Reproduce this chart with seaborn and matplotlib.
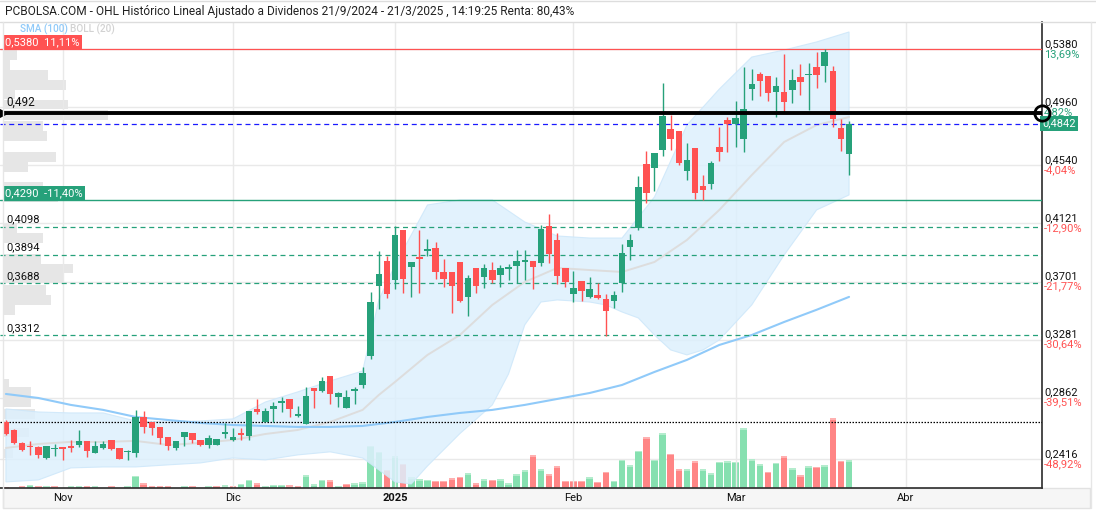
import numpy as np
import pandas as pd
import seaborn as sns
import matplotlib.pyplot as plt

# ---- data --------------------------------------------------------------
holidays = ["2024-12-25", "2024-12-26", "2025-01-01"]
dates = pd.bdate_range("2024-10-23", "2025-04-30").drop(pd.to_datetime(holidays))

opens = [.2689, .2629, .2538, .2514, .2509, .2429, .2492, .2504, .2514, .2521,
         .2550, .2465, .2499, .2557, .2499, .2470, .2465, .2721, .2689, .2651,
         .2579, .2499, .2581, .2610, .2557, .2523, .2521, .2603, .2557, .2605,
         .2588, .2781, .2689, .2781, .2826, .2851, .2733, .2675, .2932, .2911,
         .3019, .2870, .2790, .2913, .2956, .3166, .3671, .3850, .3714, .4073,
         .3808, .3878, .3924, .3943, .3772, .3770, .3842, .3592, .3799, .3736,
         .3784, .3748, .3794, .3815, .3842, .3850, .3837, .4102, .3999, .3799,
         .3613, .3705, .3590, .3604, .3575, .3563, .3688, .3951, .4086, .4550,
         .4523, .4651, .4802, .4788, .4501, .4665, .4391, .4405, .4672, .4867,
         .4841, .4730, .5091, .5200, .5185, .5072, .5070, .5084, .5178, .5192,
         .5250, .5259, .5221, .4807, .4625]
highs = [.2701, .2635, .2543, .2550, .2514, .2514, .2528, .2506, .2555, .2629,
         .2550, .2550, .2550, .2557, .2499, .2485, .2774, .2766, .2689, .2651,
         .2579, .2550, .2615, .2610, .2557, .2593, .2564, .2678, .2642, .2646,
         .2766, .2851, .2790, .2829, .2865, .2851, .2803, .2938, .2932, .3014,
         .3019, .2906, .2918, .2942, .3086, .3628, .3922, .3888, .4102, .4073,
         .3842, .4073, .4008, .3984, .3862, .3770, .3842, .3748, .3799, .3828,
         .3844, .3820, .3828, .3929, .3929, .3850, .4109, .4189, .4049, .3799,
         .3777, .3705, .3732, .3688, .3609, .3635, .3972, .4042, .4463, .4644,
         .4627, .5137, .4903, .4788, .4699, .4665, .4470, .4574, .4815, .4891,
         .5005, .5252, .5236, .5216, .5185, .5176, .5344, .5236, .5272, .5277,
         .5356, .5380, .5257, .4872, .4859]
lows = [.2593, .2526, .2478, .2449, .2429, .2418, .2441, .2413, .2473, .2509,
        .2437, .2461, .2490, .2485, .2418, .2413, .2437, .2605, .2591, .2526,
        .2485, .2485, .2516, .2533, .2514, .2502, .2521, .2574, .2548, .2557,
        .2557, .2743, .2689, .2689, .2761, .2725, .2725, .2671, .2786, .2906,
        .2817, .2798, .2786, .2817, .2935, .3142, .3501, .3585, .3645, .3616,
        .3592, .3621, .3888, .3720, .3664, .3476, .3556, .3455, .3621, .3652,
        .3688, .3660, .3712, .3688, .3712, .3645, .3813, .3837, .3681, .3664,
        .3551, .3563, .3585, .3575, .3308, .3508, .3628, .3857, .4073, .4266,
        .4357, .4610, .4651, .4543, .4434, .4297, .4290, .4367, .4574, .4639,
        .4675, .4639, .5012, .5041, .5007, .4891, .4927, .4988, .5048, .4940,
        .5101, .5144, .4819, .4646, .4471]
closes = [.2600, .2533, .2485, .2507, .2451, .2514, .2499, .2492, .2502, .2550,
          .2480, .2514, .2528, .2494, .2420, .2478, .2721, .2653, .2646, .2574,
          .2516, .2550, .2615, .2557, .2521, .2572, .2564, .2605, .2579, .2591,
          .2766, .2761, .2766, .2803, .2829, .2783, .2745, .2875, .2913, .2983,
          .2891, .2896, .2868, .2923, .3041, .3556, .3756, .3613, .4037, .3722,
          .3842, .3864, .3936, .3772, .3722, .3671, .3563, .3725, .3671, .3797,
          .3712, .3797, .3806, .3850, .3857, .3808, .4081, .3902, .3743, .3700,
          .3654, .3635, .3647, .3585, .3491, .3604, .3905, .4001, .4386, .4342,
          .4627, .4896, .4730, .4557, .4579, .4338, .4362, .4555, .4636, .4839,
          .4882, .4947, .5127, .5149, .5065, .5113, .4997, .5156, .5144, .5199,
          .5194, .5356, .4872, .4730, .4842]
# volume, thousands of shares
volumes = [30, 15, 51, 99, 51, 51, 51, 15, 51, 69, 69, 51, 15, 51, 15, 69, 369, 150, 69, 69,
           69, 15, 69, 51, 15, 51, 69, 90, 69, 129, 249, 150, 69, 99, 99, 90, 69, 390, 120, 249,
           231, 69, 129, 150, 180, 1269, 1086, 549, 960, 729, 330, 270, 249, 219, 219, 300, 339,
           450, 150, 270, 249, 270, 150, 420, 540, 990, 570, 420, 660, 219, 219, 219, 330, 189,
           489, 219, 849, 690, 1119, 1530, 849, 1650, 1029, 570, 570, 810, 570, 450, 789, 810,
           789, 1800, 870, 720, 489, 759, 960, 600, 390, 660, 639, 690, 2100, 819, 840]

# Bollinger (20) and SMA (100), read at selected sessions
bb_up_idx = [0, 4, 8, 12, 16, 20, 24, 28, 32, 36, 40, 44, 46, 48, 52, 56, 60, 64, 68, 72,
             76, 80, 84, 88, 92, 96, 100, 104]
bb_up = [.2781, .2759, .2752, .2752, .2694, .2687, .2694, .2709, .2831, .2904, .2983, .3055,
         .3568, .3821, .4254, .4290, .4290, .4131, .4030, .4015, .4015, .4312, .4831, .5091,
         .5322, .5373, .5431, .5503]
bb_lo_idx = [0, 4, 8, 12, 16, 20, 24, 28, 32, 36, 40, 44, 46, 48, 50, 52, 56, 60, 62, 64,
             66, 68, 72, 74, 76, 78, 80, 82, 84, 86, 88, 92, 96, 100, 104]
bb_lo = [.2254, .2268, .2355, .2362, .2362, .2377, .2391, .2427, .2413, .2449, .2471, .2427,
         .2341, .2254, .2239, .2369, .2603, .2810, .3034, .3388, .3553, .3568, .3553, .3532,
         .3481, .3438, .3315, .3207, .3171, .3207, .3279, .3532, .3893, .4218, .4326]
bb_mid_idx = [0, 4, 8, 12, 16, 20, 24, 28, 32, 36, 40, 44, 46, 48, 52, 56, 60, 64, 66, 68,
              72, 76, 80, 84, 88, 92, 96, 100, 104]
bb_mid = [.2499, .2528, .2543, .2543, .2550, .2521, .2535, .2557, .2600, .2629, .2687, .2774,
          .2882, .2976, .3171, .3315, .3532, .3698, .3748, .3799, .3784, .3770, .3842, .4001,
          .4218, .4470, .4709, .4831, .4889]
sma_idx = [0, 4, 8, 12, 16, 20, 24, 28, 32, 36, 40, 44, 48, 52, 56, 60, 64, 68, 72, 76, 80,
           84, 88, 92, 96, 100, 104]
sma = [.2889, .2860, .2810, .2774, .2723, .2701, .2680, .2665, .2658, .2651, .2651, .2658,
       .2687, .2723, .2752, .2774, .2810, .2853, .2896, .2954, .3048, .3135, .3243, .3315,
       .3409, .3497, .3590]

# volume by price profile (left edge)
prof_price = [.5337, .5265, .5192, .5120, .5052, .4979, .4904, .4824, .4752, .4600, .4528,
              .4384, .4308, .4084, .4016, .3864, .3795, .3727, .3640, .3568, .3496, .2965,
              .2904, .2832, .2745, .2611, .2460]
prof_vol = [14, 7, 45, 63, 12, 65, 105, 40, 44, 53, 25, 40, 55, 14, 40, 38, 70, 60, 43, 48,
            12, 6, 28, 28, 32, 26, 10]

axis_ticks = [0.5380, 0.4960, 0.4540, 0.4121, 0.3701, 0.3281, 0.2862, 0.2416]
axis_pct = [13.69, 4.82, -4.04, -12.90, -21.77, -30.64, -39.51, -48.92]
month_labels = ["Nov", "Dic", "2025", "Feb", "Mar", "Abr"]

resistance = 0.5380
support = 0.4290
key_level = 0.492
fib_levels = [0.4098, 0.3894, 0.3688, 0.3312]
start_price = 0.2684

title = ("PCBOLSA.COM - OHL Histórico Lineal Ajustado a Dividenos 21/9/2024 - 21/3/2025 , "
         "14:19:25 Renta: 80,43%")

GREEN = "#26a17a"
RED = "#ff5252"
VGREEN = "#86e0b0"
VRED = "#ff8585"


def fmt(v, nd=4):
    return f"{v:.{nd}f}".replace(".", ",")


# ---- figure -------------------------------------------------------------
sns.set_theme(style="white")
plt.rcParams["font.family"] = ["Roboto", "DejaVu Sans"]

W, H = 1096, 512
fig = plt.figure(figsize=(W / 100, H / 100), dpi=100)
rect = [0, 24 / H, 1042 / W, 466 / H]
ax_p = fig.add_axes(rect)
ax_v = fig.add_axes(rect)
ax = fig.add_axes(rect)
for a in (ax_v, ax):
    a.patch.set_alpha(0)

o, h, l, c = map(np.array, (opens, highs, lows, closes))
x = np.arange(len(c))
ylo, yhi = 0.2210, 0.5575
xlo, xhi = -0.73, 127.8

# horizontal grid + volume profile
ax_p.set_ylim(ylo, yhi)
ax_p.set_xlim(0, 1039)
for t in axis_ticks:
    ax_p.axhline(t, color="#e9e9e9", lw=1, zorder=0)
ax_p.barh(prof_price, prof_vol, height=0.0068, left=3, color="#e6e6e6", linewidth=0, zorder=1)

# volume (light top edge like the reference)
vol_up = np.r_[c[0] >= o[0], c[1:] >= c[:-1]]
ax_v.bar(x, volumes, width=0.8, color=np.where(vol_up, VGREEN, VRED), linewidth=0)
ax_v.bar(x, 45, bottom=np.array(volumes) - 45, width=0.8,
         color=np.where(vol_up, "#b4eccd", "#ffb0b0"), linewidth=0)
ax_v.set_xlim(xlo, xhi)
ax_v.set_ylim(0, 466 * 30)

# month grid
pos = pd.Series(np.arange(len(dates)), index=dates)
firsts = pos.groupby(dates.to_period("M")).first().iloc[1:]
for p in firsts.values:
    ax.axvline(p, color="#e9e9e9", lw=1, zorder=0)

# bollinger band and sma
ax.fill(np.r_[bb_up_idx, bb_lo_idx[::-1]], np.r_[bb_up, bb_lo[::-1]],
        facecolor="#ddf0fd", edgecolor="#cde7fa", lw=0.8, alpha=0.85, zorder=1)
sns.lineplot(x=bb_mid_idx, y=bb_mid, ax=ax, color="#dddddd", lw=1.4, zorder=2)
sns.lineplot(x=sma_idx, y=sma, ax=ax, color="#90caf9", lw=1.5, zorder=2)

# levels
ax.axhline(resistance, color=RED, lw=0.9, zorder=3)
ax.axhline(support, color=GREEN, lw=1.0, zorder=3)
for f in fib_levels:
    ax.axhline(f, color=GREEN, lw=0.9, ls=(0, (4, 3)), zorder=3)
ax.axhline(c[-1], color="#1a1aff", lw=0.9, ls=(0, (4, 3)), zorder=3)
ax.axhline(start_price, color="black", lw=0.9, ls=(0, (1.2, 1.2)), zorder=3)
ax.axhline(key_level, color="black", lw=2.8, zorder=7)

# candles
col = np.where(c >= o, GREEN, RED)
body_h = np.maximum(np.abs(c - o), 0.0009)
body_lo = np.minimum(o, c)
ax.vlines(x, l, h, colors=col, lw=1.0, zorder=5)
ax.bar(x, body_h, bottom=body_lo, width=0.8, color=col, linewidth=0, zorder=6)

ax.set_xlim(xlo, xhi)
ax.set_ylim(ylo, yhi)
for a in (ax_p, ax_v, ax):
    a.set_xticks([])
    a.set_yticks([])
    for s in a.spines.values():
        s.set_visible(False)
ax.spines["right"].set_visible(True)
ax.spines["right"].set_color("#333333")
ax.spines["bottom"].set_visible(True)
ax.spines["bottom"].set_color("#333333")
ax.set_xlabel("")
ax.set_ylabel("")

yt = ax.get_yaxis_transform()
xt = ax.get_xaxis_transform()

# right price scale
for t, pc in zip(axis_ticks, axis_pct):
    ax.text(1.002, t, fmt(t), transform=yt, ha="left", va="bottom", fontsize=8,
            color="#111111", clip_on=False)
    ax.text(1.002, t, f"{fmt(pc, 2)}%", transform=yt, ha="left", va="top", fontsize=8,
            color=GREEN if pc > 0 else RED, clip_on=False)
ax.text(1.0005, c[-1], fmt(c[-1]), transform=yt, ha="left", va="center", fontsize=8,
        color="white", clip_on=False, zorder=9,
        bbox=dict(boxstyle="square,pad=0.22", fc=GREEN, ec="none"))

# left level labels
for lvl, fc in ((resistance, RED), (support, GREEN)):
    ax.text(0.005, lvl + 0.0012, f"{fmt(lvl)}  {fmt((lvl / c[-1] - 1) * 100, 2)}%",
            transform=yt, ha="left", va="bottom", fontsize=8, color="white", zorder=9,
            bbox=dict(boxstyle="square,pad=0.2", fc=fc, ec="none"))
for f in fib_levels:
    ax.text(0.006, f + 0.0016, fmt(f), transform=yt, ha="left", va="bottom",
            fontsize=8, color="#111111", zorder=9)
ax.text(0.006, key_level + 0.0025, fmt(key_level, 3), transform=yt, ha="left",
        va="bottom", fontsize=8.5, color="#111111", zorder=9)
ax.plot([0.002], [key_level], transform=yt, marker=">", ms=7, color="black",
        clip_on=False, zorder=9)
ax.plot([1.0], [key_level], transform=yt, marker="o", ms=11, mfc="none", mec="black",
        mew=2, clip_on=False, zorder=9)

# x axis strip and month labels
fig.patches.append(plt.Rectangle((3 / W, 4 / H), 1087 / W, 20 / H, transform=fig.transFigure,
                                 fc="#f6f6f6", ec="#e2e2e2", lw=1, zorder=-1))
for p, lab in zip(firsts.values, month_labels):
    ax.text(p, -0.0215, lab, transform=xt, ha="center", va="center", fontsize=8,
            color="#111111", fontweight="bold" if lab.isdigit() else "normal", clip_on=False)

# frame, title and legend
fig.add_artist(plt.Line2D([0, 1], [490 / H, 490 / H], color="#dddddd", lw=1))
fig.add_artist(plt.Line2D([0, 1], [511 / H, 511 / H], color="#dddddd", lw=1))
fig.add_artist(plt.Line2D([1091 / W, 1091 / W], [4 / H, 490 / H], color="#e6e6e6", lw=1))
fig.add_artist(plt.Line2D([3 / W, 3 / W], [4 / H, 490 / H], color="#e6e6e6", lw=1))
fig.text(5 / W, 1 - 12 / H, title, ha="left", va="center", fontsize=8.6, color="#222222")
fig.text(20 / W, 1 - 29 / H, "SMA (100)", ha="left", va="center", fontsize=7.2,
         color="#90caf9", fontweight="medium")
fig.text(70 / W, 1 - 29 / H, "BOLL (20)", ha="left", va="center", fontsize=7.2,
         color="#d2d2d2", fontweight="medium")

fig.savefig("out.png", dpi=100)
